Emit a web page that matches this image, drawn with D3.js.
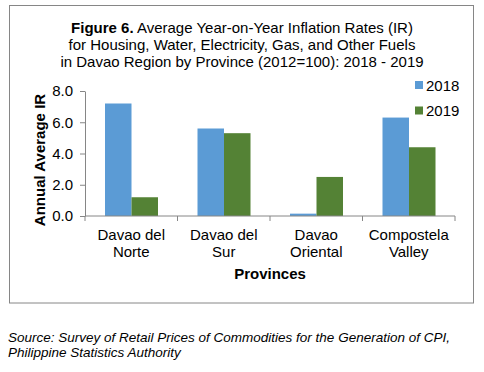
<!DOCTYPE html>
<html>
<head>
<meta charset="utf-8">
<script src="https://cdn.jsdelivr.net/npm/d3@7"></script>
<style>
  body { margin: 0; background: #fff; }
  svg { font-family: Arial, "Liberation Sans", sans-serif; }
</style>
</head>
<body>
<svg id="chart" width="484" height="372"></svg>
<script>
const provinces = [["Davao del", "Norte"], ["Davao del", "Sur"], ["Davao", "Oriental"], ["Compostela", "Valley"]];
const years = ["2018", "2019"];
const values2018 = [7.2, 5.6, 0.15, 6.3];
const values2019 = [1.2, 5.3, 2.5, 4.4];
const yTicks = [0, 2, 4, 6, 8];

const colors = { "2018": "#5b9bd5", "2019": "#548235" };
const svg = d3.select("#chart");

// frame
svg.append("rect")
    .attr("x", 9.5).attr("y", 5.5)
    .attr("width", 464).attr("height", 297.5)
    .attr("fill", "none").attr("stroke", "#868686").attr("stroke-width", 1);

// title
const titleLines = [
    [["Figure 6.", "bold"], [" Average Year-on-Year Inflation Rates (IR)", "normal"]],
    [["for Housing, Water, Electricity, Gas, and Other Fuels", "normal"]],
    [["in Davao Region by Province (2012=100): 2018 - 2019", "normal"]]
];
titleLines.forEach((parts, i) => {
    const t = svg.append("text")
        .attr("x", 242).attr("y", 33 + i * 17)
        .attr("text-anchor", "middle")
        .attr("font-size", 15).attr("fill", "#000");
    parts.forEach(p => t.append("tspan").attr("font-weight", p[1]).text(p[0]));
});

const margin = { left: 85, right: 455, top: 91, bottom: 216 };
const keys = provinces.map((d, i) => i);

const x = d3.scaleBand()
    .domain(keys)
    .range([margin.left, margin.right])
    .paddingInner(0).paddingOuter(0);

const xSub = d3.scaleBand()
    .domain(years)
    .range([20, x.bandwidth() - 19.5]);

const y = d3.scaleLinear()
    .domain([0, 8])
    .range([margin.bottom, margin.top]);

// bars
const data = years.map(yr => ({ year: yr, values: yr === "2018" ? values2018 : values2019 }));
data.forEach(s => {
    svg.append("g").selectAll("rect")
        .data(s.values)
        .enter().append("rect")
        .attr("x", (d, i) => x(i) + xSub(s.year))
        .attr("width", xSub.bandwidth())
        .attr("y", d => y(d))
        .attr("height", d => y(0) - y(d))
        .attr("fill", colors[s.year]);
});

// y axis
const yAxis = svg.append("g")
    .attr("transform", `translate(${margin.left},0)`)
    .call(d3.axisLeft(y).tickValues(yTicks).tickFormat(d3.format(".1f")).tickSize(5).tickSizeOuter(0));
yAxis.select(".domain").attr("stroke", "#868686");
yAxis.selectAll(".tick line").attr("stroke", "#868686");
yAxis.selectAll(".tick text")
    .attr("font-size", 15).attr("font-family", "Arial, 'Liberation Sans', sans-serif")
    .attr("fill", "#000").attr("x", -12);

// x axis (ticks at category boundaries)
const xAxis = svg.append("g").attr("transform", `translate(0,${margin.bottom})`);
xAxis.append("line")
    .attr("x1", margin.left).attr("x2", margin.right)
    .attr("stroke", "#868686");
const bounds = keys.map(k => x(k)).concat([margin.right]);
xAxis.selectAll(".bt").data(bounds).enter().append("line")
    .attr("x1", d => d).attr("x2", d => d)
    .attr("y1", 0).attr("y2", 5)
    .attr("stroke", "#868686");
provinces.forEach((lines, i) => {
    lines.forEach((ln, j) => {
        xAxis.append("text")
            .attr("x", x(i) + x.bandwidth() / 2)
            .attr("y", 24 + j * 17)
            .attr("text-anchor", "middle")
            .attr("font-size", 15).attr("fill", "#000")
            .text(ln);
    });
});

// axis titles
svg.append("text")
    .attr("x", 270).attr("y", 279)
    .attr("text-anchor", "middle")
    .attr("font-size", 15).attr("font-weight", "bold")
    .text("Provinces");

svg.append("text")
    .attr("transform", "rotate(-90)")
    .attr("x", -160).attr("y", 45)
    .attr("text-anchor", "middle")
    .attr("font-size", 15).attr("font-weight", "bold")
    .text("Annual Average IR");

// legend
years.forEach((yr, i) => {
    const g = svg.append("g").attr("transform", `translate(415,${85 + i * 25.5})`);
    g.append("rect").attr("x", 0).attr("y", -4).attr("width", 8).attr("height", 8).attr("fill", colors[yr]);
    g.append("text").attr("x", 11).attr("y", 5.5).attr("font-size", 15).text(yr);
});

// source
const src = ["Source: Survey of Retail Prices of Commodities for the Generation of CPI,",
             "Philippine Statistics Authority"];
src.forEach((s, i) => {
    svg.append("text")
        .attr("x", 8).attr("y", 342 + i * 14.5)
        .attr("font-size", 13.5).attr("font-style", "italic")
        .text(s);
});
</script>
</body>
</html>
